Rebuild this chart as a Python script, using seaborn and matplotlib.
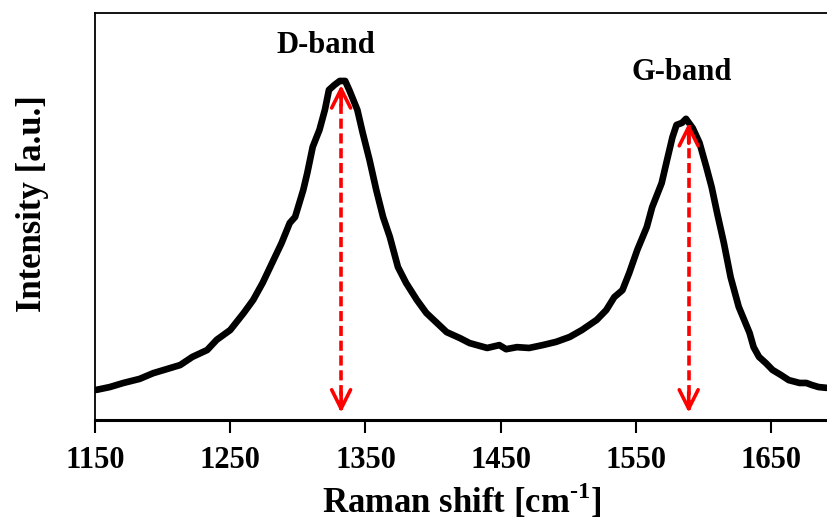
import matplotlib
matplotlib.use("Agg")
import matplotlib.pyplot as plt
import seaborn as sns
import pandas as pd

# Raman shift (cm^-1) and intensity (a.u.) of the measured spectrum
raman_shift = [1151, 1161, 1171, 1183, 1193, 1203, 1213, 1222, 1233, 1240,
               1250, 1260, 1267, 1274, 1281, 1288, 1294, 1298, 1304, 1307,
               1311, 1316, 1320, 1323, 1327, 1331, 1335, 1338, 1344, 1348,
               1353, 1358, 1363, 1368, 1374, 1380, 1388, 1395, 1403, 1410,
               1420, 1427, 1440, 1449, 1454, 1462, 1471, 1481, 1491, 1501,
               1510, 1521, 1528, 1534, 1540, 1545, 1551, 1558, 1562, 1569,
               1573, 1577, 1580, 1584, 1587, 1592, 1597, 1602, 1606, 1610,
               1615, 1620, 1626, 1634, 1637, 1641, 1646, 1651, 1657, 1663,
               1671, 1676, 1680, 1685, 1691]
intensity = [74, 81, 91, 101, 115, 125, 135, 155, 172, 197,
             221, 263, 295, 337, 386, 435, 484, 499, 565, 607,
             671, 713, 762, 811, 823, 833, 833, 811, 762, 705,
             639, 565, 499, 450, 376, 337, 295, 263, 238, 216,
             201, 189, 177, 184, 174, 179, 177, 184, 192, 204,
             221, 246, 270, 302, 319, 361, 418, 474, 523, 582,
             639, 695, 725, 730, 740, 717, 681, 622, 572, 509,
             435, 351, 278, 214, 179, 155, 140, 123, 111, 98,
             91, 91, 86, 81, 79]

# Band positions marked with arrows, and where their names sit
band_names = ["D-band", "G-band"]
band_positions = [1332, 1589]
band_peaks = [833, 740]
label_x = [1321, 1584]
label_y = [921, 853]

x_ticks = [1150, 1250, 1350, 1450, 1550, 1650]

sns.set_style("white")
plt.rcParams["font.family"] = ["Liberation Serif", "DejaVu Serif"]
plt.rcParams["font.weight"] = "bold"
plt.rcParams["text.color"] = "black"
plt.rcParams["axes.labelcolor"] = "black"
plt.rcParams["xtick.color"] = "black"
plt.rcParams["axes.edgecolor"] = "black"
plt.rcParams["mathtext.fontset"] = "custom"
plt.rcParams["mathtext.rm"] = "Liberation Serif:bold"
plt.rcParams["mathtext.bf"] = "Liberation Serif:bold"

fig = plt.figure(figsize=(8.28, 5.2), dpi=100)
ax = fig.add_axes([0.1147, 0.1923, 0.8853, 0.7827])

df = pd.DataFrame({"shift": raman_shift, "intensity": intensity})
sns.lineplot(data=df, x="shift", y="intensity", ax=ax, color="black",
             linewidth=4.8, solid_joinstyle="round", solid_capstyle="round")

ax.set_xlim(1150, 1692)
ax.set_ylim(0, 1000)

arrow_bottom = 18
head = dict(arrowstyle="->", color="red", lw=2.6, mutation_scale=34,
            shrinkA=0, shrinkB=0)
for name, pos, peak, lx, ly in zip(band_names, band_positions, band_peaks,
                                   label_x, label_y):
    top = peak - 10
    ax.plot([pos, pos], [arrow_bottom + 6, top - 6], color="red",
            linewidth=2.6, linestyle=(0, (2.8, 1.3)))
    ax.annotate("", xy=(pos, top), xytext=(pos, top - 50), arrowprops=head)
    ax.annotate("", xy=(pos, arrow_bottom), xytext=(pos, arrow_bottom + 50),
                arrowprops=head)
    ax.text(lx, ly, name, ha="center", va="center", fontsize=22,
            fontweight="bold", color="black")

ax.set_xticks(x_ticks)
ax.set_xticklabels([str(t) for t in x_ticks])
ax.set_yticks([])
ax.tick_params(axis="x", direction="out", length=9, width=1.5,
               labelsize=22, pad=10, bottom=True, colors="black")
for lab in ax.get_xticklabels():
    lab.set_fontweight("bold")

ax.set_xlabel("Raman shift [cm$^{\\mathrm{\u2010}\\mathrm{1}}$]", fontsize=25,
              fontweight="bold", labelpad=4)
ax.set_ylabel("Intensity [a.u.]", fontsize=25, fontweight="bold")
ax.yaxis.set_label_coords(-0.063, 0.533)

for side in ["left", "top"]:
    ax.spines[side].set_linewidth(1.3)
ax.spines["bottom"].set_linewidth(2.2)
ax.spines["right"].set_visible(False)

fig.savefig("out.png", dpi=100)
